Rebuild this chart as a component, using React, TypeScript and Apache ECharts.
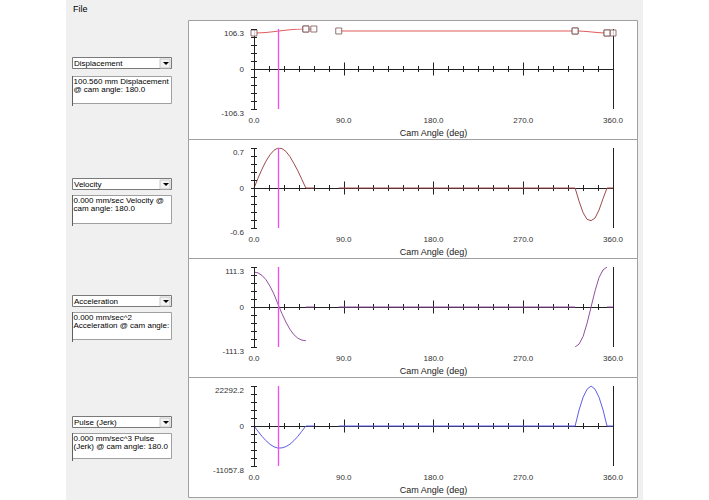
import React, { useEffect, useRef } from "react";
import * as echarts from "echarts";

// ---------------- data ----------------
const riseAngles = [0, 4, 8, 12, 16, 20, 24, 28, 32, 36, 40, 44, 48, 52];
const returnAngles = [322, 326, 330, 334, 338, 342, 346, 350, 354];
const dwellStarts = [52, 85, 354];
const dwellEnds = [60, 322, 360];
const cursorAngle = 24.4;
const xLabelInterval = 90;

const dispRise = [95.7, 95.9, 96.3, 97.1, 98.1, 99.3, 100.6, 101.9, 103.1, 104.2, 105.1, 105.8, 106.2, 106.3];
const dispReturn = [101.0, 100.8, 100.3, 99.5, 98.5, 97.5, 96.6, 96.0, 95.7];
const dispDwell = [106.3, 101.0, 95.7];

const velRise = [0, 0.17, 0.33, 0.47, 0.58, 0.66, 0.7, 0.69, 0.64, 0.55, 0.43, 0.3, 0.15, 0];
const velReturn = [0, -0.2, -0.37, -0.47, -0.49, -0.45, -0.33, -0.16, 0];
const velDwell = [0, 0, 0];

const accRise = [97, 95, 88, 76, 58, 36, 8, -18, -42, -62, -77, -87, -92, -94];
const accReturn = [-111.3, -103, -82, -45, 0, 45, 82, 103, 111.3];
const accDwell = [0, 0, 0];

const jerkRise = [0, -1450, -2850, -4050, -5050, -5750, -6100, -6050, -5700, -5050, -4050, -2850, -1450, 0];
const jerkReturn = [0, 9000, 16000, 20500, 22292.2, 20500, 16000, 9000, 0];
const jerkDwell = [0, 0, 0];

const yTop = [106.3, 0.7, 111.3, 22292.2];
const yBottom = [-106.3, -0.6, -111.3, -11057.8];
const yDivisionsPerHalf = 5;
const quantityNames = ["Displacement", "Velocity", "Acceleration", "Pulse (Jerk)"];
const readouts = [
  ["100.560 mm Displacement", "@ cam angle: 180.0"],
  ["0.000 mm/sec Velocity @", "cam angle: 180.0"],
  ["0.000 mm/sec^2", "Acceleration @ cam angle:"],
  ["0.000 mm/sec^3 Pulse", "(Jerk) @ cam angle: 180.0"],
];
const xAxisName = "Cam Angle (deg)";
const menuText = "File";

// ---------------- layout / style ----------------
const FONT = "'Liberation Sans', Arial, sans-serif";
const W = 709;
const H = 500;
const GRID_LEFT = 254;
const GRID_W = 359;
const GRID_H = 80;
const gridTops = [29, 148, 267, 386];
const panelTops = [20, 139, 258, 377];
const panelHeights = [119, 119, 119, 120];
const selectTops = [57, 178, 295, 416];
const boxTops = [76, 195, 312, 433];
const boxHeights = [27, 28, 27, 25];
const lineColors = ["#e05a5a", "#a04a4a", "#9050a0", "#5c5ce8"];
const AXIS_COLOR = "#222";

function buildOption() {
  const series: any[] = [];
  const all = [
    { rise: dispRise, ret: dispReturn, dwell: dispDwell },
    { rise: velRise, ret: velReturn, dwell: velDwell },
    { rise: accRise, ret: accReturn, dwell: accDwell },
    { rise: jerkRise, ret: jerkReturn, dwell: jerkDwell },
  ];

  const grid: any[] = gridTops.map((t) => ({
    left: GRID_LEFT,
    top: t,
    width: GRID_W,
    height: GRID_H,
    outerBoundsMode: "none",
  }));

  const yTickValues: number[] = [];
  for (let k = -yDivisionsPerHalf; k <= yDivisionsPerHalf; k++) yTickValues.push(k / yDivisionsPerHalf);

  const xAxis: any[] = [];
  const yAxis: any[] = [];
  const near = (a: number, b: number) => Math.abs(a - b) < 1e-6;

  all.forEach((q, i) => {
    xAxis.push({
      gridIndex: i,
      type: "value",
      min: 0,
      max: 360,
      interval: xLabelInterval,
      position: "bottom",
      axisLine: { show: false, onZero: false },
      axisTick: { show: false },
      splitLine: { show: false },
      axisLabel: {
        color: "#333",
        fontSize: 8,
        fontFamily: FONT,
        margin: 7,
        formatter: (v: number) => v.toFixed(1),
      },
      name: xAxisName,
      nameLocation: "middle",
      nameGap: 19,
      nameTextStyle: { color: "#222", fontSize: 9, fontFamily: FONT },
    });
    const tickAxis = (interval: number, len: number, inside: boolean) => ({
      gridIndex: i,
      type: "value",
      min: 0,
      max: 360,
      interval,
      position: "top",
      axisLine: { show: true, onZero: true, onZeroAxisIndex: i, lineStyle: { color: AXIS_COLOR, width: 1 } },
      axisTick: { show: true, inside, length: len, lineStyle: { color: AXIS_COLOR, width: 1 } },
      axisLabel: { show: false },
      splitLine: { show: false },
    });
    xAxis.push(tickAxis(15, 3, false), tickAxis(15, 3, true), tickAxis(90, 6.5, false), tickAxis(90, 6.5, true));

    yAxis.push({
      gridIndex: i,
      type: "value",
      min: -1,
      max: 1,
      interval: 1 / yDivisionsPerHalf,
      position: "left",
      offset: -3,
      axisLine: { show: true, onZero: false, lineStyle: { color: "rgba(0,0,0,0)", width: 1 } },
      axisTick: { show: true, length: 6, lineStyle: { color: AXIS_COLOR, width: 1 } },
      splitLine: { show: false },
      axisLabel: {
        margin: 13,
        fontSize: 8,
        fontFamily: FONT,
        color: "#333",
        rich: { e: { fontSize: 8, fontFamily: FONT, color: "#333", padding: [8, 0, 0, 0] } },
        formatter: (v: number) =>
          near(v, 1)
            ? `{e|${yTop[i].toFixed(1)}}`
            : near(v, -1)
            ? `{e|${yBottom[i].toFixed(1)}}`
            : near(v, 0)
            ? "0"
            : "",
      },
    });

    // crossing tick marks on the y axis line
    series.push({
      type: "custom",
      coordinateSystem: "cartesian2d",
      xAxisIndex: 5 * i,
      yAxisIndex: i,
      silent: true,
      clip: false,
      z: 10,
      encode: { x: 0, y: 1 },
      data: yTickValues.map((v) => [0, v]),
      renderItem: (_p: any, api: any) => {
        const p = api.coord([api.value(0), api.value(1)]);
        const y = Math.round(p[1]) + 0.5;
        return {
          type: "line",
          shape: { x1: p[0] - 3, y1: y, x2: p[0] + 3, y2: y },
          style: { stroke: AXIS_COLOR, lineWidth: 1 },
        };
      },
    });

    const norm = (v: number) => (v >= 0 ? v / yTop[i] : v / -yBottom[i]);
    const segs: number[][][] = [
      riseAngles.map((a, k) => [a, norm(q.rise[k])]),
      ...dwellStarts.map((s, k) => [
        [s, norm(q.dwell[k])],
        [dwellEnds[k], norm(q.dwell[k])],
      ]),
      returnAngles.map((a, k) => [a, norm(q.ret[k])]),
    ];
    segs.forEach((d, k) => {
      const s: any = {
        type: "line",
        xAxisIndex: 5 * i,
        yAxisIndex: i,
        data: d,
        symbol: "none",
        silent: true,
        lineStyle: { color: lineColors[i], width: 1 },
        z: 3,
      };
      if (k === 0) {
        s.markLine = {
          silent: true,
          symbol: ["none", "none"],
          label: { show: false },
          animation: false,
          data: [
            { xAxis: 0, lineStyle: { color: AXIS_COLOR, width: 1, type: "solid" } },
            { xAxis: 360, lineStyle: { color: AXIS_COLOR, width: 1, type: "solid" } },
            { xAxis: cursorAngle, lineStyle: { color: "#f04cf0", width: 1.3, type: "solid" } },
          ],
        };
      }
      series.push(s);
    });
    if (i === 0) {
      series.push({
        type: "scatter",
        xAxisIndex: 0,
        yAxisIndex: 0,
        silent: true,
        symbol: "rect",
        symbolSize: 6,
        itemStyle: { color: "#fff", borderColor: "#7a5050", borderWidth: 1 },
        data: segs.flatMap((d) => [d[0], d[d.length - 1]]),
        z: 5,
      });
    }
  });

  // ---------- static UI drawing ----------
  const graphic: any[] = [];
  graphic.push({
    type: "rect",
    z: -20,
    shape: { x: 66, y: 0, width: 577, height: H },
    style: { fill: "#f0f0f0" },
  });
  graphic.push({
    type: "text",
    z: 10,
    x: 73,
    y: 9,
    style: { text: menuText, fontSize: 9, fontFamily: FONT, fill: "#000", verticalAlign: "middle" },
  });
  panelTops.forEach((t, i) => {
    graphic.push({
      type: "rect",
      z: -10,
      shape: { x: 188.5, y: t + 0.5, width: 449, height: panelHeights[i] },
      style: { fill: "#fff", stroke: "#a0a0a0", lineWidth: 1 },
    });
    const st = selectTops[i];
    graphic.push({
      type: "rect",
      z: -5,
      shape: { x: 72.5, y: st + 0.5, width: 99, height: 11 },
      style: { fill: "#fff", stroke: "#7a7a7a", lineWidth: 1 },
    });
    graphic.push({
      type: "rect",
      z: -4,
      shape: { x: 160, y: st + 2, width: 10, height: 9 },
      style: { fill: "#f2f2f2", stroke: "#c8c8c8", lineWidth: 1 },
    });
    graphic.push({
      type: "polygon",
      z: -3,
      shape: { points: [[163, st + 5], [169, st + 5], [166, st + 8]] },
      style: { fill: "#000" },
    });
    graphic.push({
      type: "text",
      z: 10,
      x: 74,
      y: st + 6,
      style: { text: quantityNames[i], fontSize: 8, fontFamily: FONT, fill: "#000", verticalAlign: "middle" },
    });
    const bt = boxTops[i];
    graphic.push({
      type: "rect",
      z: -5,
      shape: { x: 72.5, y: bt + 0.5, width: 99, height: boxHeights[i] },
      style: { fill: "#fff", stroke: "#a0a0a0", lineWidth: 1 },
    });
    graphic.push({
      type: "line",
      z: -4,
      shape: { x1: 72.5, y1: bt, x2: 72.5, y2: bt + boxHeights[i] + 3 },
      style: { stroke: "#606060", lineWidth: 1 },
    });
    graphic.push({
      type: "text",
      z: 10,
      x: 73.5,
      y: bt + 1,
      style: {
        text: readouts[i].join("\n"),
        fontSize: 8,
        lineHeight: 8,
        fontFamily: FONT,
        fill: "#000",
        verticalAlign: "top",
      },
    });
  });

  return {
    animation: false,
    backgroundColor: "#fff",
    textStyle: { fontFamily: FONT },
    grid,
    xAxis,
    yAxis,
    series,
    graphic,
  };
}

export default function App() {
  const ref = useRef<HTMLDivElement>(null);
  useEffect(() => {
    document.body.style.margin = "0";
    if (!ref.current) return;
    const chart = echarts.init(ref.current, undefined, { renderer: "svg", width: W, height: H });
    chart.setOption(buildOption() as any);
    return () => chart.dispose();
  }, []);
  return <div ref={ref} style={{ position: "absolute", left: 0, top: 0, width: W, height: H }} />;
}
